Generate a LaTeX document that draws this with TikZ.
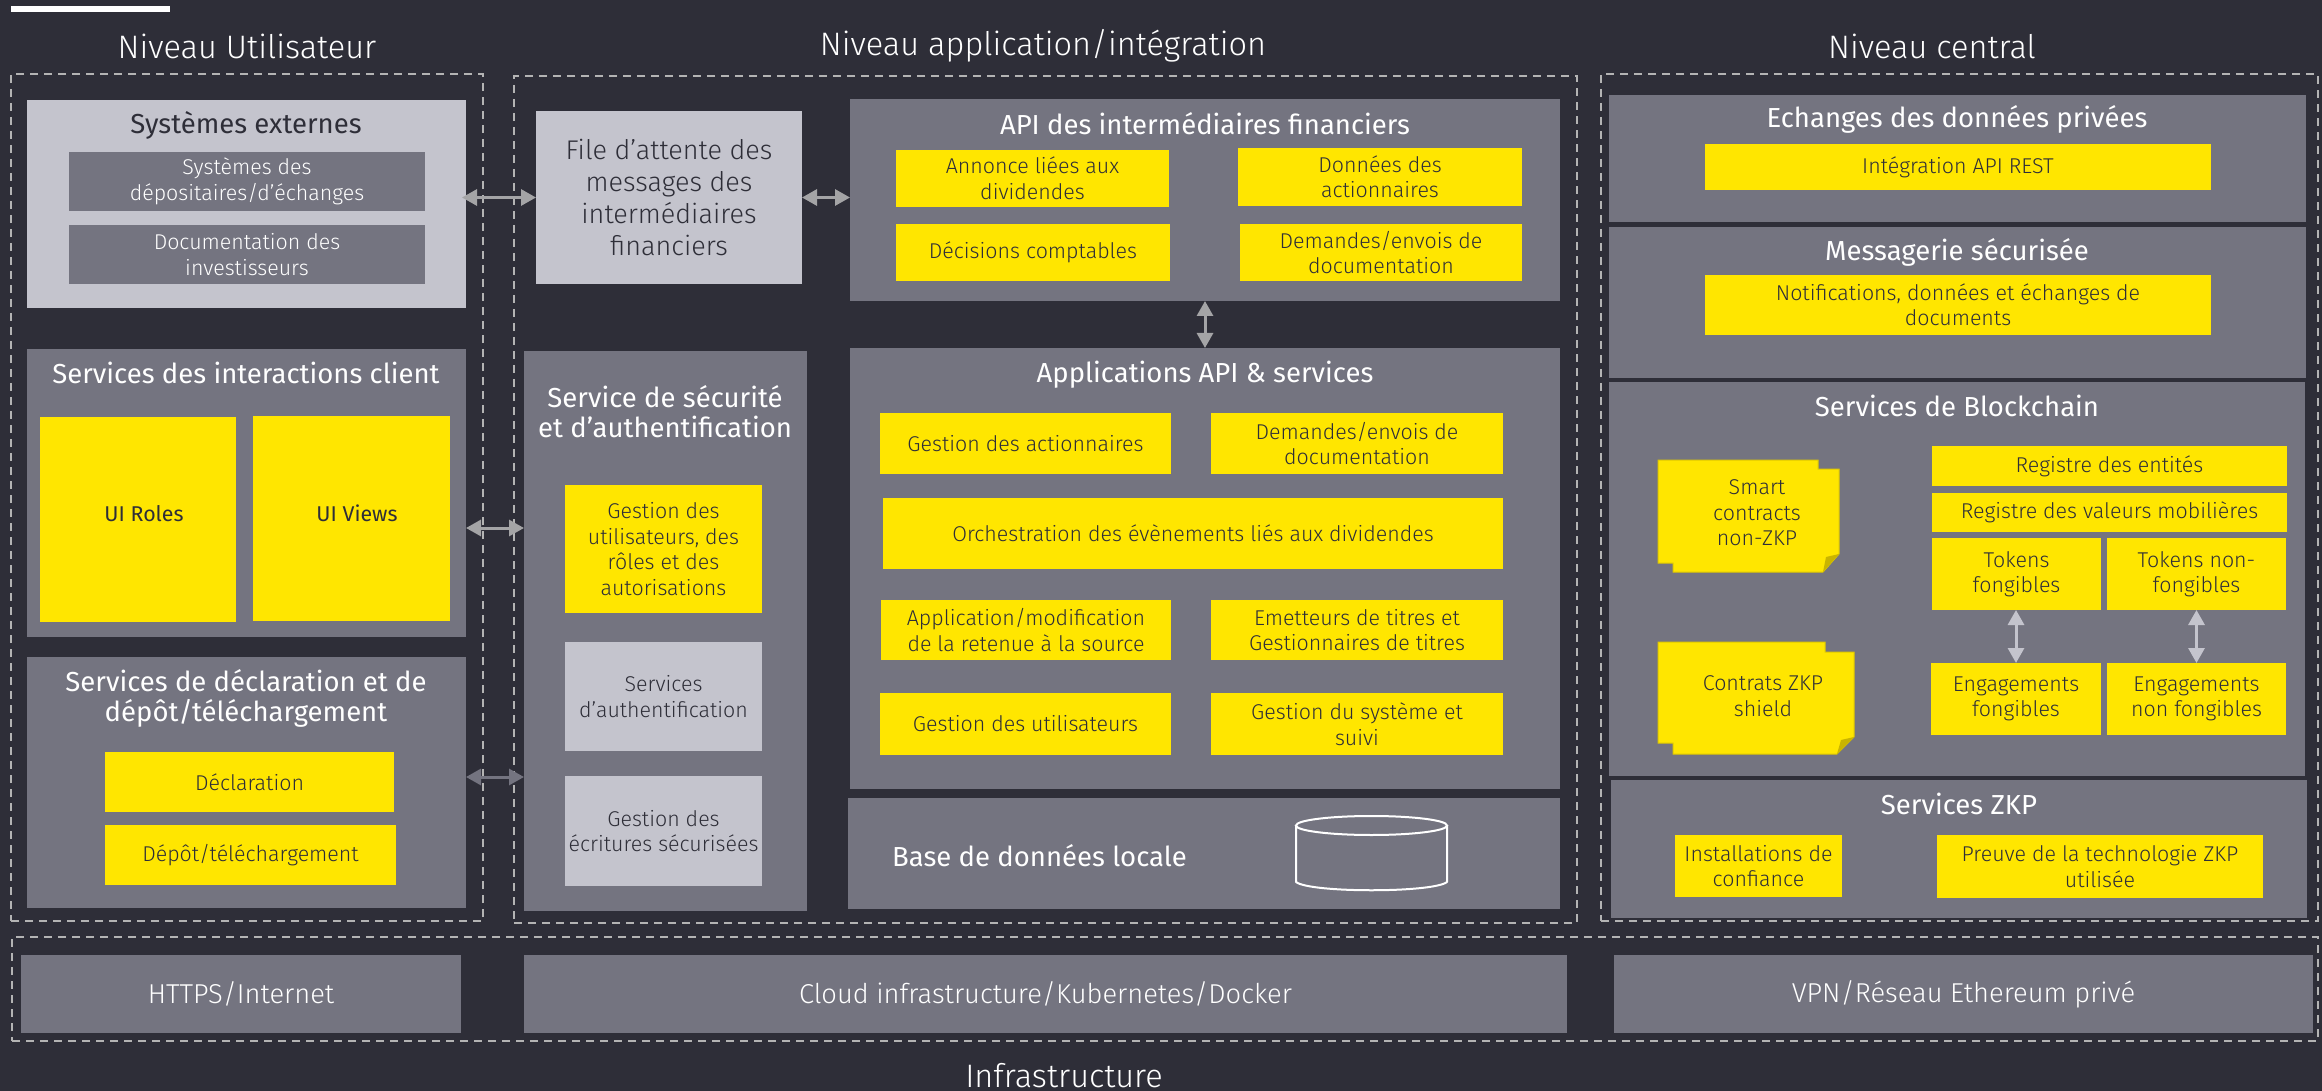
\documentclass[tikz,border=0pt]{standalone}
\usepackage{fontspec}
\setmainfont{Fira Sans Light}
\newfontfamily\regfont{Fira Sans}
\usetikzlibrary{arrows.meta}
\definecolor{bgc}{HTML}{2E2E38}
\definecolor{grayc}{HTML}{747480}
\definecolor{lightc}{HTML}{C4C4CD}
\definecolor{yel}{HTML}{FFE600}
\definecolor{dashc}{HTML}{B4B4B4}
\definecolor{arrc}{HTML}{A4A4A6}
\definecolor{foldc}{HTML}{C9B400}
\tikzset{
  x=1pt,y=-1pt,
  box/.style={inner sep=0pt,outer sep=0pt,align=center},
  gbox/.style={box,fill=grayc,text=white},
  lbox/.style={box,fill=lightc,text=bgc},
  ybox/.style={box,fill=yel,text=bgc},
  bodyf/.style={font=\fontsize{21.4}{25.5}\selectfont},
  midf/.style={font=\fontsize{27.3}{32}\selectfont},
  titlef/.style={font=\regfont\fontsize{27.5}{30}\selectfont},
  headf/.style={font=\fontsize{32.5}{38}\selectfont},
  titletxt/.style={inner sep=0pt,align=center,text=white,titlef},
  headtxt/.style={inner sep=0pt,align=center,text=white,headf},
  dashbox/.style={draw=dashc,line width=1.8pt,dash pattern=on 8pt off 6pt},
  biarrow/.style={{Triangle[length=15pt,width=16pt]}-{Triangle[length=15pt,width=16pt]},line width=3pt,draw=arrc},
  note/.style={fill=yel,draw=foldc!60!yel,line width=1pt},
}
\newcommand{\bx}[7][]{%
  \pgfmathsetmacro{\cxx}{(#3+#5)/2}%
  \pgfmathsetmacro{\cyy}{(#4+#6)/2}%
  \pgfmathsetmacro{\www}{#5-#3}%
  \pgfmathsetmacro{\hhh}{#6-#4}%
  \node[#1,minimum width=\www pt,minimum height=\hhh pt] (#2) at (\cxx,\cyy) {#7};%
}
\begin{document}
\begin{tikzpicture}
\useasboundingbox (0,0) rectangle (2322,1091);
\fill[bgc] (0,0) rectangle (2322,1091);
\bx[box,fill=white]{bar}{11}{6}{170}{12}{}
% headings
\node[headtxt] (hu) at (247,46) {Niveau Utilisateur};
\node[headtxt] (ha) at (1043,46) {Niveau application/intégration};
\node[headtxt] (hc) at (1932,46) {Niveau central};
\node[headtxt,anchor=base] (hi) at (1064,1087) {Infrastructure};
% dashed frames
\bx[box,dashbox]{fu}{11}{74}{483}{921}{}
\bx[box,dashbox]{fa}{514}{76}{1577}{923}{}
\bx[box,dashbox]{fc}{1601}{74}{2318}{921}{}
\bx[box,dashbox]{fi}{12}{937}{2318}{1041}{}
% user tier
\bx[lbox]{ext}{27}{100}{466}{308}{}
\node[titletxt,text=bgc] (extt) at (246,125) {Systèmes externes};
\bx[gbox,bodyf]{ext1}{69}{152}{425}{211}{Systèmes des\\dépositaires/d’échanges}
\bx[gbox,bodyf]{ext2}{69}{225}{425}{284}{Documentation des\\investisseurs}
\bx[gbox]{cli}{27}{349}{466}{637}{}
\node[titletxt] (clit) at (246,373) {Services des interactions client};
\bx[ybox]{uir}{40}{417}{236}{622}{}
\bx[ybox]{uiv}{253}{416}{450}{621}{}
\node[box,text=bgc,font=\regfont\fontsize{21.4}{25.5}\selectfont] (uirt) at (144,514) {UI Roles};
\node[box,text=bgc,font=\regfont\fontsize{21.4}{25.5}\selectfont] (uivt) at (357,513) {UI Views};
\bx[gbox]{dec}{27}{657}{466}{908}{}
\node[titletxt] (dect) at (246,698) {Services de déclaration et de\\dépôt/téléchargement};
\bx[ybox,bodyf]{dec1}{105}{752}{394}{812}{Déclaration}
\bx[ybox,bodyf]{dec2}{105}{825}{396}{885}{Dépôt/téléchargement}
% app tier left
\bx[lbox,font=\fontsize{27}{32}\selectfont]{file}{536}{111}{802}{284}{File d’attente des\\messages des\\intermédiaires\\financiers}
\bx[gbox]{sec}{524}{351}{807}{911}{}
\node[titletxt] (sect) at (665,412) {Service de sécurité\\et d’authentification};
\bx[ybox,bodyf]{sec1}{565}{485}{762}{613}{Gestion des\\utilisateurs, des\\rôles et des\\autorisations}
\bx[lbox,bodyf]{sec2}{565}{642}{762}{751}{Services\\d’authentification}
\bx[lbox,bodyf]{sec3}{565}{776}{762}{886}{Gestion des\\écritures sécurisées}
% API
\bx[gbox]{api}{850}{99}{1560}{301}{}
\node[titletxt] (apit) at (1205,124) {API des intermédiaires financiers};
\bx[ybox,bodyf]{api1}{896}{150}{1169}{207}{Annonce liées aux\\dividendes}
\bx[ybox,bodyf]{api2}{1238}{148}{1522}{206}{Données des\\actionnaires}
\bx[ybox,bodyf]{api3}{896}{224}{1170}{281}{Décisions comptables}
\bx[ybox,bodyf]{api4}{1240}{224}{1522}{281}{Demandes/envois de\\documentation}
\bx[gbox]{app}{850}{348}{1560}{789}{}
\node[titletxt] (appt) at (1205,375) {Applications API \& services};
\bx[ybox,bodyf]{app1}{880}{413}{1171}{474}{Gestion des actionnaires}
\bx[ybox,bodyf]{app2}{1211}{413}{1503}{474}{Demandes/envois de\\documentation}
\bx[ybox,bodyf]{app3}{883}{498}{1503}{569}{Orchestration des évènements liés aux dividendes}
\bx[ybox,bodyf]{app4}{881}{600}{1171}{660}{Application/modification\\de la retenue à la source}
\bx[ybox,bodyf]{app5}{1211}{600}{1503}{660}{Emetteurs de titres et\\Gestionnaires de titres}
\bx[ybox,bodyf]{app6}{880}{693}{1171}{755}{Gestion des utilisateurs}
\bx[ybox,bodyf]{app7}{1211}{693}{1503}{755}{Gestion du système et\\suivi}
\bx[gbox]{db}{848}{798}{1560}{909}{}
\node[titletxt,anchor=west] (dbt) at (892,856) {Base de données locale};
\draw[white,line width=2pt,line join=round] (1296,825) -- (1296,882) .. controls (1310,893) and (1433,893) .. (1447,882) -- (1447,825);
\draw[white,line width=2pt] (1371.5,825.5) ellipse [x radius=75.5,y radius=9.5];
% central tier
\bx[gbox]{ech}{1609}{95}{2306}{222}{}
\node[titletxt] (echt) at (1957,119) {Echanges des données privées};
\bx[ybox,bodyf]{ech1}{1705}{144}{2211}{190}{Intégration API REST}
\bx[gbox]{msg}{1609}{227}{2306}{378}{}
\node[titletxt] (msgt) at (1957,252) {Messagerie sécurisée};
\bx[ybox,bodyf]{msg1}{1705}{275}{2211}{335}{Notifications, données et échanges de\\documents}
\bx[gbox]{blk}{1609}{382}{2305}{776}{}
\node[titletxt] (blkt) at (1957,406) {Services de Blockchain};
\bx[ybox,bodyf]{reg1}{1932}{446}{2287}{486}{Registre des entités}
\bx[ybox,bodyf]{reg2}{1932}{493}{2287}{532}{Registre des valeurs mobilières}
\bx[ybox,bodyf]{tok1}{1932}{538}{2101}{610}{Tokens\\fongibles}
\bx[ybox,bodyf]{tok2}{2107}{538}{2286}{610}{Tokens non-\\fongibles}
\bx[ybox,bodyf]{eng1}{1931}{663}{2101}{735}{Engagements\\fongibles}
\bx[ybox,bodyf]{eng2}{2107}{663}{2286}{735}{Engagements\\non fongibles}
% sticky notes
\draw[note] (1658,460) -- (1818,460) -- (1818,469) -- (1839,469) -- (1839,554) -- (1823,572) -- (1673,572) -- (1673,563) -- (1658,563) -- cycle;
\fill[foldc] (1839,554) -- (1823,572) -- (1826,557) -- cycle;
\node[box,bodyf,text=bgc] (sc) at (1757,513) {Smart\\contracts\\non-ZKP};
\draw[note] (1658,642) -- (1825,642) -- (1825,652) -- (1854,652) -- (1854,737) -- (1837,754) -- (1673,754) -- (1673,743) -- (1658,743) -- cycle;
\fill[foldc] (1854,737) -- (1837,754) -- (1841,740) -- cycle;
\node[box,bodyf,text=bgc] (zc) at (1763,696) {Contrats ZKP\\shield};
\bx[gbox]{zkp}{1611}{780}{2307}{918}{}
\node[titletxt] (zkpt) at (1959,804) {Services ZKP};
\bx[ybox,bodyf]{zkp1}{1675}{835}{1842}{897}{Installations de\\confiance}
\bx[ybox,bodyf]{zkp2}{1937}{835}{2263}{898}{Preuve de la technologie ZKP\\utilisée}
% infrastructure
\bx[gbox,midf]{i1}{21}{955}{461}{1033}{HTTPS/Internet}
\bx[gbox,midf]{i2}{524}{955}{1567}{1033}{Cloud infrastructure/Kubernetes/Docker}
\bx[gbox,midf]{i3}{1614}{955}{2313}{1033}{VPN/Réseau Ethereum privé}
% connectors
\coordinate (ya) at (0,528);
\coordinate (yb) at (0,777);
\coordinate (xa) at (2016,0);
\draw[biarrow,shorten <=-4pt] (file.west -| ext.east) -- (file.west);
\draw[biarrow] (file.east) -- (file.east -| api.west);
\draw[biarrow] (cli.east |- ya) -- (sec.west |- ya);
\draw[biarrow,draw=grayc] (dec.east |- yb) -- (sec.west |- yb);
\draw[biarrow] (api.south) -- (app.north);
\draw[biarrow,draw=lightc] (tok1.south -| xa) -- (eng1.north -| xa);
\draw[biarrow,draw=lightc] (tok2.south) -- (eng2.north);
\end{tikzpicture}
\end{document}
